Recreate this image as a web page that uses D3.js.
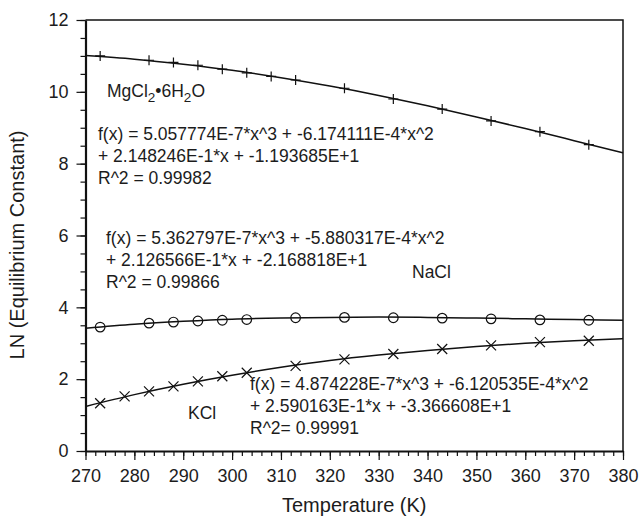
<!DOCTYPE html>
<html>
<head>
<meta charset="utf-8">
<script src="https://cdn.jsdelivr.net/npm/d3@7/dist/d3.min.js"></script>
<style>
  body { margin: 0; background: #fff; }
  svg text { font-family: "Liberation Sans", Arial, Helvetica, sans-serif; fill: #1c1c1c; }
</style>
</head>
<body>
<svg id="chart" width="639" height="516"></svg>
<script>
(function() {
  var mgTemps = [273, 283, 288, 293, 298, 303, 308, 313, 323, 333, 343, 353, 363, 373];
  var mgVals = [11.00, 10.88, 10.82, 10.74, 10.63, 10.53, 10.43, 10.33, 10.10, 9.80, 9.52, 9.19, 8.89, 8.53];

  var naTemps = [273, 283, 288, 293, 298, 303, 313, 323, 333, 343, 353, 363, 373];
  var naVals = [3.45, 3.56, 3.59, 3.62, 3.64, 3.66, 3.71, 3.72, 3.71, 3.70, 3.68, 3.65, 3.64];

  var kTemps = [273, 278, 283, 288, 293, 298, 303, 313, 323, 333, 343, 353, 363, 373];
  var kVals = [1.33, 1.52, 1.66, 1.80, 1.94, 2.08, 2.18, 2.37, 2.55, 2.70, 2.84, 2.94, 3.03, 3.07];

  // fitted curves, read at every 10 K
  var fitTemps = [270, 280, 290, 300, 310, 320, 330, 340, 350, 360, 370, 380];
  var mgFit = [11.01, 10.91, 10.77, 10.60, 10.39, 10.16, 9.90, 9.61, 9.30, 8.98, 8.64, 8.30];
  var naFit = [3.42, 3.53, 3.61, 3.67, 3.70, 3.72, 3.73, 3.72, 3.70, 3.68, 3.66, 3.64];
  var kFit = [1.24, 1.57, 1.86, 2.11, 2.33, 2.52, 2.67, 2.80, 2.91, 3.00, 3.07, 3.13];

  var xMajor = [270, 280, 290, 300, 310, 320, 330, 340, 350, 360, 370, 380];
  var yMajor = [0, 2, 4, 6, 8, 10, 12];

  var mgEq = ['f(x) = 5.057774E-7*x^3 + -6.174111E-4*x^2', '+ 2.148246E-1*x + -1.193685E+1', 'R^2 = 0.99982'];
  var naEq = ['f(x) = 5.362797E-7*x^3 + -5.880317E-4*x^2', '+ 2.126566E-1*x + -2.168818E+1', 'R^2 = 0.99866'];
  var kEq = ['f(x) = 4.874228E-7*x^3 + -6.120535E-4*x^2', '+ 2.590163E-1*x + -3.366608E+1', 'R^2= 0.99991'];

  var left = 85.5, right = 623, top = 20, bottom = 451;
  var svg = d3.select('#chart');

  var x = d3.scaleLinear().domain([270, 380]).range([left, right]);
  var y = d3.scaleLinear().domain([0, 12]).range([bottom, top]);

  // frame (top and right)
  svg.append('path')
    .attr('d', 'M' + left + ',' + top + 'H' + right + 'V' + bottom)
    .attr('fill', 'none').attr('stroke', '#111').attr('stroke-width', 1.5);

  // minor ticks
  svg.append('g').attr('transform', 'translate(0,' + bottom + ')')
    .call(d3.axisBottom(x).tickValues(d3.range(270, 381, 2)).tickSize(5).tickFormat(''))
    .call(function(g) { g.select('.domain').remove(); });
  svg.append('g').attr('transform', 'translate(' + left + ',0)')
    .call(d3.axisLeft(y).tickValues(d3.range(0, 12.01, 0.5)).tickSize(5).tickFormat(''))
    .call(function(g) { g.select('.domain').remove(); });

  var xAxis = svg.append('g').attr('transform', 'translate(0,' + bottom + ')')
    .call(d3.axisBottom(x).tickValues(xMajor).tickSize(9).tickSizeOuter(0).tickPadding(9).tickFormat(d3.format('d')));
  var yAxis = svg.append('g').attr('transform', 'translate(' + left + ',0)')
    .call(d3.axisLeft(y).tickValues(yMajor).tickSize(9).tickSizeOuter(0).tickPadding(8).tickFormat(d3.format('d')));

  svg.selectAll('.tick line').attr('stroke', '#111').attr('stroke-width', 1.2);
  [xAxis, yAxis].forEach(function(a) {
    a.select('.domain').attr('stroke', '#111').attr('stroke-width', 2.2);
    a.selectAll('text').attr('font-size', 18).style('font-family', '"Liberation Sans", Arial, sans-serif').attr('fill', '#1c1c1c');
  });

  // fitted lines
  var line = d3.line()
    .x(function(d) { return x(d[0]); })
    .y(function(d) { return y(d[1]); })
    .curve(d3.curveNatural);
  [mgFit, naFit, kFit].forEach(function(vals) {
    svg.append('path')
      .datum(d3.zip(fitTemps, vals))
      .attr('d', line)
      .attr('fill', 'none').attr('stroke', '#111').attr('stroke-width', 1.5);
  });

  // markers
  var s = 5;
  svg.append('g').selectAll('path').data(d3.zip(mgTemps, mgVals)).enter().append('path')
    .attr('d', function(d) {
      var cx = x(d[0]), cy = y(d[1]);
      return 'M' + (cx - s) + ',' + cy + 'H' + (cx + s) + 'M' + cx + ',' + (cy - s) + 'V' + (cy + s);
    })
    .attr('stroke', '#111').attr('stroke-width', 1.2);

  svg.append('g').selectAll('circle').data(d3.zip(naTemps, naVals)).enter().append('circle')
    .attr('cx', function(d) { return x(d[0]); })
    .attr('cy', function(d) { return y(d[1]); })
    .attr('r', 4.8)
    .attr('fill', 'none').attr('stroke', '#111').attr('stroke-width', 1.2);

  svg.append('g').selectAll('path').data(d3.zip(kTemps, kVals)).enter().append('path')
    .attr('d', function(d) {
      var cx = x(d[0]), cy = y(d[1]);
      return 'M' + (cx - s) + ',' + (cy - s) + 'L' + (cx + s) + ',' + (cy + s) +
        'M' + (cx - s) + ',' + (cy + s) + 'L' + (cx + s) + ',' + (cy - s);
    })
    .attr('stroke', '#111').attr('stroke-width', 1.2);

  // annotations
  function block(lines, px, py) {
    lines.forEach(function(t, i) {
      svg.append('text').attr('x', px).attr('y', py + i * 22).attr('font-size', 17.5).text(t);
    });
  }
  block(mgEq, 98, 140);
  block(naEq, 106, 244);
  block(kEq, 250, 390);

  var mg = svg.append('text').attr('x', 107).attr('y', 96.5).attr('font-size', 17.5);
  mg.append('tspan').text('MgCl');
  mg.append('tspan').attr('font-size', 13.5).attr('dy', 5).text('2');
  mg.append('tspan').attr('dy', -5).text('\u20226H');
  mg.append('tspan').attr('font-size', 13.5).attr('dy', 5).text('2');
  mg.append('tspan').attr('dy', -5).text('O');

  svg.append('text').attr('x', 412).attr('y', 278).attr('font-size', 17.5).text('NaCl');
  svg.append('text').attr('x', 188).attr('y', 419).attr('font-size', 17.5).text('KCl');

  // axis titles
  svg.append('text')
    .attr('x', (left + right) / 2).attr('y', 512)
    .attr('text-anchor', 'middle').attr('font-size', 20)
    .text('Temperature (K)');
  svg.append('text')
    .attr('transform', 'translate(24,245) rotate(-90)')
    .attr('text-anchor', 'middle').attr('font-size', 20)
    .text('LN  (Equilibrium Constant)');
})();
</script>
</body>
</html>
